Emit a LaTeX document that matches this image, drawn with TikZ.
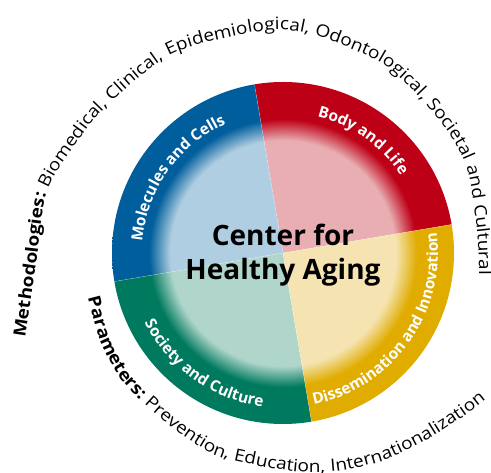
\documentclass[tikz,border=0pt]{standalone}
\usepackage{fontspec}
\setmainfont{Open Sans}
\newfontfamily\outerfam[LetterSpace=4, FakeStretch=1.12]{Open Sans}
\usetikzlibrary{decorations.text}

\definecolor{bluebase}{RGB}{0,94,156}
\definecolor{bluelight}{RGB}{176,206,225}
\definecolor{redbase}{RGB}{190,0,22}
\definecolor{redlight}{RGB}{232,174,178}
\definecolor{yellowbase}{RGB}{224,172,0}
\definecolor{yellowlight}{RGB}{245,228,178}
\definecolor{greenbase}{RGB}{0,122,94}
\definecolor{greenlight}{RGB}{176,214,204}

\colorlet{ringin}{white}
\colorlet{ringout}{black}
\pgfdeclareradialshading[ringin,ringout]{ringfade}{\pgfpointorigin}{%
  color(0bp)=(ringin); color(16.5bp)=(ringin); color(19.6bp)=(ringout); color(50bp)=(ringout)}

\newcommand\ringfont{\fontsize{15.5}{18}\selectfont\bfseries}
\newcommand\outerfont{\outerfam\fontsize{17}{20}\selectfont}

\tikzset{
  fadecols/.code 2 args={\colorlet{ringin}{#1}\colorlet{ringout}{#2}},
  ringlabel/.style={decorate, decoration={text along path, text align=center,
      text color=white, text={|\ringfont|#1}}},
  outerlabel/.style={decorate, decoration={text along path, text align=left,
      text={#1}}}
}

\begin{document}
\begin{tikzpicture}[x=1pt, y=1pt]
  \useasboundingbox (0,0) rectangle (491,473);
  \begin{scope}[shift={(283,220)}]
    % quadrants with faded ring
    \foreach \a/\cin/\cout in {9.6/redlight/redbase, 99.6/bluelight/bluebase,
        189.6/greenlight/greenbase, 279.6/yellowlight/yellowbase} {
      \begin{scope}
        \clip (0,0) -- (\a:172) arc (\a:\a+90:172) -- cycle;
        \shade[fadecols={\cin}{\cout}, shading=ringfade] (0,0) circle (171);
      \end{scope}
    }
    \foreach \a in {9.6, 99.6, 189.6, 279.6}
      \draw[white, opacity=0.4, line width=0.4pt] (0,0) -- (\a:171);

    % labels on the ring
    \path[ringlabel={Molecules and Cells}] (189.6:141) arc (189.6:99.6:141);
    \path[ringlabel={Body and Life}] (99.6:141) arc (99.6:9.6:141);
    \path[ringlabel={Society and Culture}] (189.6:155) arc (189.6:279.6:155);
    \path[ringlabel={Dissemination and Innovation}] (279.6:155) arc (279.6:369.6:155);

    \node[font=\bfseries\fontsize{28}{34}\selectfont, align=center] (title) at (0,-2)
      {Center for\\Healthy Aging};

    % outer texts
    \path[outerlabel={|\outerfont\bfseries|Methodologies:|\outerfont| Biomedical, Clinical, Epidemiological, Odontological, Societal and Cultural}]
      plot[smooth] coordinates {(-258,-85) (-247,-12) (-236,62) (-205,112) (-175,148)
        (-113,198) (-40,219) (2,223) (37,216) (97,191) (135,157) (167,118) (185,81)
        (194,23) (196,-17) (195,-70) (190,-110)};
    \path[outerlabel={|\outerfont\bfseries|Parameters:|\outerfont| Prevention, Education, Internationalization}]
      plot[smooth] coordinates {(-195,-45) (-183,-87) (-165,-122) (-143,-147) (-108,-177)
        (-68,-202) (-23,-213) (17,-219) (57,-218) (102,-207) (147,-185) (199,-150)
        (235,-115) (260,-80)};
  \end{scope}
\end{tikzpicture}
\end{document}
